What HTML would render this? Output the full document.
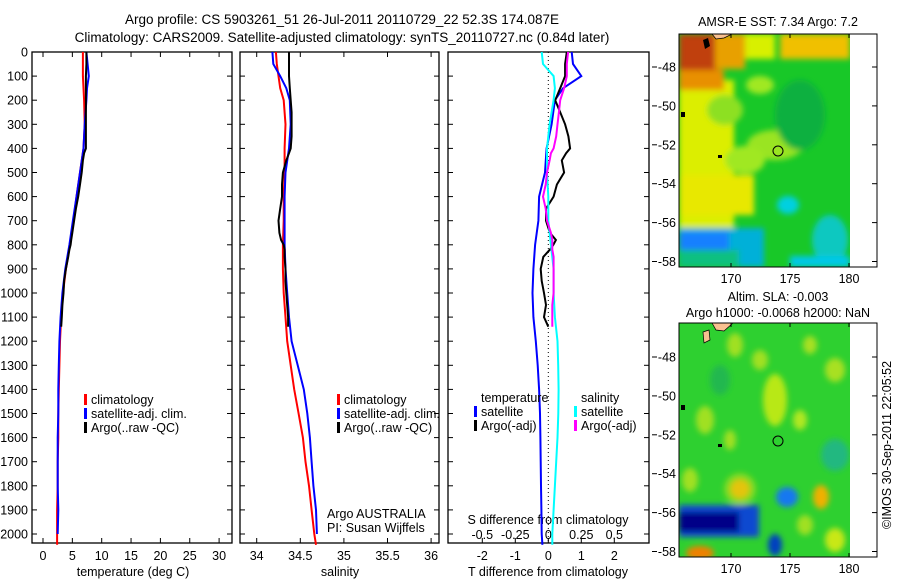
<!DOCTYPE html>
<html><head><meta charset="utf-8"><style>
body{margin:0;background:#fff;}
svg text{font-family:"Liberation Sans",sans-serif;fill:#000;}
</style></head><body>
<svg id="chart" width="900" height="580" viewBox="0 0 900 580" xmlns="http://www.w3.org/2000/svg">
<defs>
<filter id="bl" x="-20%" y="-20%" width="140%" height="140%"><feGaussianBlur stdDeviation="3"/></filter>
<clipPath id="c1"><rect x="679" y="34" width="171" height="233"/></clipPath>
<clipPath id="c2"><rect x="679" y="323" width="171" height="234"/></clipPath>
</defs>
<g font-size="13.5">
<text x="342" y="24" text-anchor="middle">Argo profile: CS 5903261_51 26-Jul-2011 20110729_22 52.3S 174.087E</text>
<text x="342" y="42" text-anchor="middle">Climatology: CARS2009. Satellite-adjusted climatology: synTS_20110727.nc (0.84d later)</text>
</g>
<g id="panels"></g>
<g id="maps">
<g clip-path="url(#c1)">
<rect x="679" y="34" width="171" height="233" fill="#18c828"/>
<g filter="url(#bl)">
<rect x="679" y="80" width="55" height="150" fill="#dcee00"/>
<rect x="679" y="175" width="75" height="40" fill="#e8e800"/>
<rect x="679" y="34" width="40" height="50" fill="#c04010"/>
<rect x="715" y="34" width="30" height="35" fill="#e8a000"/>
<rect x="679" y="70" width="45" height="20" fill="#e89000"/>
<rect x="745" y="34" width="30" height="25" fill="#d8f000"/>
<rect x="780" y="34" width="70" height="25" fill="#f0c000"/>
<ellipse cx="725" cy="110" rx="18" ry="15" fill="#8de020"/>
<ellipse cx="775" cy="145" rx="28" ry="15" fill="#9ae420"/>
<ellipse cx="745" cy="160" rx="20" ry="14" fill="#a0e820"/>
<ellipse cx="760" cy="85" rx="14" ry="9" fill="#a0e820"/>
<ellipse cx="795" cy="108" rx="10" ry="8" fill="#a0e820"/>
<rect x="679" y="228" width="85" height="39" fill="#00b0d8"/>
<rect x="679" y="232" width="50" height="18" fill="#1880ff"/>
<rect x="679" y="250" width="60" height="17" fill="#10c080"/>
<ellipse cx="788" cy="205" rx="11" ry="9" fill="#00d0e0"/>
<ellipse cx="830" cy="240" rx="18" ry="25" fill="#10c8c0"/>
<rect x="790" y="256" width="60" height="11" fill="#00c8e8"/>
<ellipse cx="800" cy="115" rx="25" ry="35" fill="#10b040"/>
</g>
<circle cx="778" cy="151" r="5" fill="none" stroke="#000"/>
<path d="M703 40 L708 38 L710 46 L705 49 Z" fill="#000"/>
<path d="M712 34 L716 39 L724 38 L732 34 Z" fill="#f8c090" stroke="#000" stroke-width="0.7"/>
<rect x="681" y="112" width="4" height="5" fill="#000"/>
<rect x="718" y="155" width="4" height="3" fill="#000"/>
</g>
<rect x="850" y="34" width="27" height="233" fill="#fff"/>
<rect x="679" y="34" width="198" height="233" fill="none" stroke="#000"/>
<g clip-path="url(#c2)">
<rect x="679" y="323" width="171" height="234" fill="#2ed030"/>
<g filter="url(#bl)">
<ellipse cx="775" cy="400" rx="12" ry="26" fill="#b8e818"/>
<ellipse cx="760" cy="360" rx="8" ry="10" fill="#a0e020"/>
<ellipse cx="735" cy="345" rx="8" ry="12" fill="#a0e020"/>
<ellipse cx="800" cy="420" rx="7" ry="10" fill="#b0e820"/>
<ellipse cx="705" cy="420" rx="9" ry="14" fill="#a0e020"/>
<ellipse cx="730" cy="440" rx="6" ry="10" fill="#a0e020"/>
<ellipse cx="835" cy="370" rx="10" ry="12" fill="#a8e020"/>
<ellipse cx="810" cy="345" rx="7" ry="9" fill="#a8e020"/>
<ellipse cx="690" cy="480" rx="8" ry="12" fill="#a0e020"/>
<ellipse cx="835" cy="455" rx="14" ry="16" fill="#20b880"/>
<ellipse cx="720" cy="380" rx="10" ry="15" fill="#20b850"/>
<ellipse cx="740" cy="489" rx="10" ry="10" fill="#f0a000"/>
<ellipse cx="740" cy="489" rx="16" ry="16" fill="#d8e810" opacity="0.5"/>
<ellipse cx="821" cy="497" rx="8" ry="12" fill="#f0b000"/>
<ellipse cx="787" cy="497" rx="11" ry="10" fill="#1878f0"/>
<rect x="679" y="505" width="80" height="32" fill="#0848d0"/>
<rect x="679" y="512" width="60" height="20" fill="#000088"/>
<ellipse cx="775" cy="545" rx="7" ry="11" fill="#0040c0"/>
<ellipse cx="700" cy="553" rx="14" ry="7" fill="#f08000"/>
<ellipse cx="835" cy="540" rx="10" ry="12" fill="#c8e818"/>
<ellipse cx="805" cy="525" rx="8" ry="10" fill="#a0e020"/>
</g>
<circle cx="778" cy="441" r="5" fill="none" stroke="#000"/>
<path d="M712 323 L716 330 L724 331 L733 323 Z" fill="#f8c090" stroke="#000" stroke-width="0.7"/>
<path d="M703 332 L709 330 L710 340 L704 343 Z" fill="#f8c090" stroke="#000" stroke-width="0.7"/>
<rect x="681" y="405" width="4" height="5" fill="#000"/>
<rect x="718" y="444" width="4" height="3" fill="#000"/>
</g>
<rect x="850" y="323" width="27" height="234" fill="#fff"/>
<rect x="679" y="323" width="198" height="234" fill="none" stroke="#000"/>
<g font-size="12.5">
<text x="778" y="26" text-anchor="middle">AMSR-E SST: 7.34 Argo: 7.2</text>
<text x="778" y="301" text-anchor="middle">Altim. SLA: -0.003</text>
<text x="778" y="317" text-anchor="middle">Argo h1000: -0.0068 h2000: NaN</text>
</g>
</g>
<text transform="translate(891,445) rotate(-90)" text-anchor="middle" font-size="12.5">©IMOS 30-Sep-2011 22:05:52</text>
</svg>
<script>
// depth levels (dbar)
const depthClim = [0,50,100,150,200,300,400,500,600,700,800,900,1000,1100,1200,1300,1400,1500,1600,1700,1800,1900,2000,2045];
const depthArgo = [0,50,100,150,200,250,300,350,400,420,450,500,550,600,650,700,750,780,800,820,850,900,950,1000,1050,1100,1140];
const depthTicks = [0,100,200,300,400,500,600,700,800,900,1000,1100,1200,1300,1400,1500,1600,1700,1800,1900,2000];
// temperature
const tempClim = [6.8,6.8,6.8,6.9,7.0,7.1,6.9,6.3,5.7,5.2,4.6,3.9,3.4,3.1,2.9,2.8,2.7,2.6,2.6,2.5,2.5,2.4,2.4,2.4];
const tempSat = [7.4,7.6,7.8,7.5,7.4,7.1,6.9,6.3,5.7,5.1,4.5,3.8,3.3,3.0,2.8,2.7,2.6,2.6,2.5,2.5,2.5,2.6,2.5,2.5];
const tempArgo = [7.4,7.4,7.3,7.3,7.3,7.3,7.3,7.3,7.3,7.0,6.8,6.6,6.3,6.0,5.6,5.3,5.0,4.8,4.7,4.5,4.3,3.9,3.6,3.5,3.3,3.2,3.1];
const tempTicks = [0,5,10,15,20,25,30];
// salinity
const salClim = [34.22,34.23,34.25,34.27,34.31,34.33,34.32,34.32,34.31,34.31,34.30,34.30,34.31,34.33,34.35,34.39,34.43,34.48,34.53,34.56,34.60,34.63,34.66,34.68];
const salSat = [34.18,34.19,34.27,34.34,34.38,34.39,34.37,34.33,34.32,34.32,34.32,34.33,34.35,34.37,34.40,34.47,34.54,34.58,34.61,34.63,34.65,34.68,34.69,34.69];
const salArgo = [34.37,34.37,34.37,34.38,34.39,34.40,34.40,34.40,34.39,34.37,34.34,34.30,34.29,34.29,34.27,34.25,34.26,34.28,34.31,34.32,34.32,34.33,34.33,34.34,34.35,34.36,34.36];
const salTicks = [34,34.5,35,35.5,36];
// differences from climatology
const tDiffSat = [0.71,0.75,1.0,0.45,0.2,0.1,-0.05,-0.1,-0.28,-0.3,-0.4,-0.45,-0.48,-0.45,-0.38,-0.32,-0.28,-0.25,-0.24,-0.23,-0.22,-0.21,-0.2,-0.18];
const tDiffArgo = [0.56,0.51,0.51,0.36,0.21,0.36,0.51,0.61,0.66,0.54,0.41,0.48,0.26,0.16,-0.07,-0.07,0.05,0.23,0.15,0.05,-0.15,-0.23,-0.2,-0.13,-0.07,-0.13,0.0];
const sDiffSat = [-0.05,-0.04,0.04,0.05,0.04,0.01,-0.01,-0.01,0.0,0.0,0.02,0.04,0.04,0.05,0.07,0.075,0.078,0.076,0.07,0.06,0.05,0.04,0.03,0.03];
const sDiffArgo = [0.15,0.14,0.14,0.12,0.09,0.08,0.07,0.06,0.04,0.02,0.01,-0.01,-0.02,-0.04,-0.02,-0.01,0.02,0.03,0.03,0.03,0.04,0.04,0.04,0.04,0.03,0.03,0.03];
const tDiffTicks = [-2,-1,0,1,2];
const sDiffTicks = [-0.5,-0.25,0,0.25,0.5];
const latTicks = [-48,-50,-52,-54,-56,-58];
const lonTicks = [170,175,180];

const NS='http://www.w3.org/2000/svg';
const G=document.getElementById('panels');
function el(tag,attrs,parent){const e=document.createElementNS(NS,tag);for(const k in attrs)e.setAttribute(k,attrs[k]);(parent||G).appendChild(e);return e;}
function txt(s,x,y,anchor,size,parent){const t=el('text',{x:x,y:y,'text-anchor':anchor,'font-size':size},parent);t.textContent=s;return t;}
const fmtNum = v => String(v).replace('\u2212','-');

const TOP=52, BOT=543;
const yD = d => TOP + d*0.241;
const xT = v => 43 + v*5.87;
const xS = v => 256.7 + (v-34)*87.2;
const xTD = v => 548.3 + v*33;
const xSD = v => 548.3 + v*132;

function frame(x0,x1,name){
  const r=el('rect',{x:x0,y:TOP,width:x1-x0,height:BOT-TOP,fill:'none',stroke:'#000','stroke-width':1.3});
  
  
  depthTicks.forEach(d=>{
    const y=yD(d);
    const t1=el('line',{x1:x0,y1:y,x2:x0+5,y2:y,stroke:'#000'});
    
    
    const t2=el('line',{x1:x1-5,y1:y,x2:x1,y2:y,stroke:'#000'});
    
    
  });
}
function xticks(ticks,fx,labelY,name,top){
  ticks.forEach(v=>{
    const x=fx(v);
    const l=el('line',{x1:x,y1:BOT,x2:x,y2:BOT-5,stroke:'#000'});
    
    
    if(top){const l2=el('line',{x1:x,y1:TOP,x2:x,y2:TOP+5,stroke:'#000'});
      
      }
    const t=txt(fmtNum(v),x,labelY,'middle',12.5);
    
    
  });
}
function series(depths,vals,fx,color,name,w){
  const pts=depths.map((d,i)=>fx(vals[i]).toFixed(1)+','+yD(d).toFixed(1)).join(' ');
  const p=el('polyline',{points:pts,fill:'none',stroke:color,'stroke-width':w||2,'stroke-linejoin':'miter'});
  
  
}
function legend(x,y,color,label,name){
  const r=el('rect',{x:x,y:y-10,width:3,height:11,fill:color});
  
  
  const t=txt(label,x+7,y,'start',12.5);
  
  
}

// Panel 1 temperature
frame(32,232,'temperature-panel');
depthTicks.forEach(d=>{const t=txt(String(d),28,yD(d)+4.5,'end',12.5);
  
  });
xticks(tempTicks,xT,560,'temperature-axis',true);
const tl=txt('temperature (deg C)',133,576,'middle',12.5);


series(depthClim,tempClim,xT,'#f00','temperature-climatology-line');
series(depthClim.slice(0,23),tempSat.slice(0,23),xT,'#00f','temperature-satellite-line');
series(depthArgo,tempArgo,xT,'#000','temperature-argo-line');
legend(84,404,'#f00','climatology','legend-climatology');
legend(84,418,'#00f','satellite-adj. clim.','legend-satellite');
legend(84,432,'#000','Argo(..raw -QC)','legend-argo');

// Panel 2 salinity
frame(240,439,'salinity-panel');
xticks(salTicks,xS,560,'salinity-axis',true);
const sl=txt('salinity',340,576,'middle',12.5);


series(depthClim,salClim,xS,'#f00','salinity-climatology-line');
series(depthClim.slice(0,23),salSat.slice(0,23),xS,'#00f','salinity-satellite-line');
series(depthArgo,salArgo,xS,'#000','salinity-argo-line');
legend(337,404,'#f00','climatology','legend-climatology-2');
legend(337,418,'#00f','satellite-adj. clim.','legend-satellite-2');
legend(337,432,'#000','Argo(..raw -QC)','legend-argo-2');
const a1=txt('Argo AUSTRALIA',327,518,'start',12.5);


const a2=txt('PI: Susan Wijffels',327,532,'start',12.5);



// Panel 3 differences
frame(448,649,'difference-panel');
const zl=el('line',{x1:xTD(0),y1:TOP,x2:xTD(0),y2:BOT,stroke:'#000','stroke-dasharray':'1,3'});


xticks(tDiffTicks,xTD,560,'t-diff-axis',false);
sDiffTicks.forEach(v=>{const t=txt(fmtNum(v),xSD(v),539,'middle',12.5);
  
  });
const dl=txt('T difference from climatology',548,576,'middle',12.5);


const sdl=txt('S difference from climatology',548,524,'middle',12.5);


series(depthClim,tDiffSat,xTD,'#00f','t-diff-satellite-line');
series(depthArgo,tDiffArgo,xTD,'#000','t-diff-argo-line');
series(depthClim,sDiffSat,xSD,'#0ff','s-diff-satellite-line');
series(depthArgo,sDiffArgo,xSD,'#f0f','s-diff-argo-line');
const lt=txt('temperature',481,402,'start',12.5);


legend(474,416,'#00f','satellite','legend-t-satellite');
legend(474,430,'#000','Argo(-adj)','legend-t-argo');
const ls=txt('salinity',581,402,'start',12.5);


legend(574,416,'#0ff','satellite','legend-s-satellite');
legend(574,430,'#f0f','Argo(-adj)','legend-s-argo');

// Map axes
const M=document.getElementById('maps');
[[34,67],[323,357]].forEach(([top,y48],mi)=>{
  latTicks.forEach(lat=>{
    const y=y48+(-48-lat)*19.45;
    const t=el('line',{x1:877,y1:y,x2:872,y2:y,stroke:'#000'},M);
    
    
    const t2=el('line',{x1:652,y1:y,x2:657,y2:y,stroke:'#000'},M);
    
    
    const lb=txt('-'+Math.abs(lat),676,y+4.5,'end',12.5,M);
    
    
  });
  const bot= mi===0?267:557;
  lonTicks.forEach(lon=>{
    const x=731+(lon-170)*11.8;
    const t=el('line',{x1:x,y1:top,x2:x,y2:top+4,stroke:'#000'},M);
    
    
    const t2=el('line',{x1:x,y1:bot,x2:x,y2:bot-4,stroke:'#000'},M);
    
    
    const lb=txt(String(lon),x,bot+16,'middle',12.5,M);
    
    
  });
});
</script>
</body></html>
